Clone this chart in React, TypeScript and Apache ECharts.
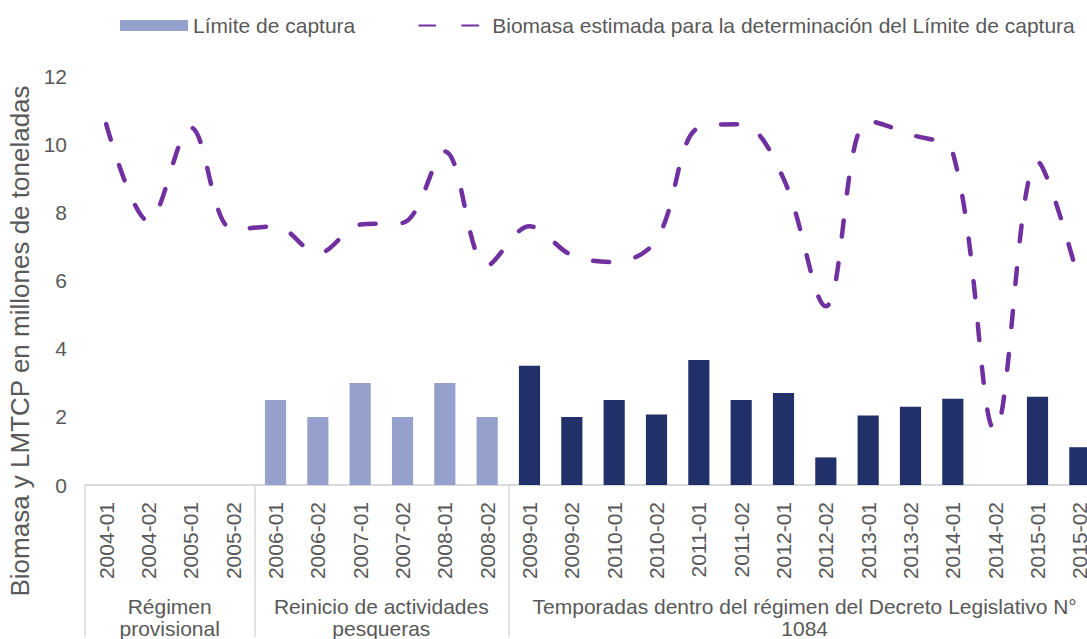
import React, { useEffect, useRef } from "react";
import * as echarts from "echarts";

const categories = [
  "2004-01", "2004-02", "2005-01", "2005-02",
  "2006-01", "2006-02", "2007-01", "2007-02", "2008-01", "2008-02",
  "2009-01", "2009-02", "2010-01", "2010-02", "2011-01", "2011-02",
  "2012-01", "2012-02", "2013-01", "2013-02", "2014-01", "2014-02",
  "2015-01", "2015-02",
];

// Límite de captura (millones de toneladas)
const catchLimit: (number | null)[] = [
  null, null, null, null,
  2.5, 2.0, 3.0, 2.0, 3.0, 2.0,
  3.5, 2.0, 2.5, 2.07, 3.67, 2.5, 2.7, 0.81, 2.04, 2.3, 2.53, null, 2.59, 1.11,
];

// Biomasa estimada (millones de toneladas)
const biomass = [
  10.6, 7.75, 10.5, 7.5,
  7.6, 6.8, 7.65, 7.7, 9.8, 6.45,
  7.6, 6.75, 6.55, 7.2, 10.5, 10.6, 9.0, 5.25, 10.7, 10.3, 9.75, 1.6, 9.5, 5.9,
];

const groupNames = [
  "Régimen\nprovisional",
  "Reinicio de actividades\npesqueras",
  "Temporadas dentro del régimen del Decreto Legislativo N°\n1084",
];
const groupSizes = [4, 6, 14];
const groupColors = ["#95A0CC", "#95A0CC", "#213069"];

const yMin = 0;
const yMax = 12;
const yStep = 2;

const seriesNames = ["Límite de captura", "Biomasa estimada para la determinación del Límite de captura"];
const yAxisTitle = "Biomasa y LMTCP en millones de toneladas";

export default function App() {
  const ref = useRef<HTMLDivElement>(null);

  useEffect(() => {
    if (!ref.current) return;
    const chart = echarts.init(ref.current, undefined, { renderer: "svg" });

    const boundaries: number[] = [0];
    const centers: number[] = [];
    const groupOfIndex: number[] = [];
    groupSizes.forEach((s, g) => {
      const start = boundaries[boundaries.length - 1];
      centers.push(start + s / 2);
      boundaries.push(start + s);
      for (let i = 0; i < s; i++) groupOfIndex.push(g);
    });

    const barData = catchLimit.map((v, i) => ({
      value: v,
      itemStyle: { color: groupColors[groupOfIndex[i]] },
    }));

    const textColor = "#595959";
    const font = "Liberation Sans, Arial, sans-serif";

    chart.setOption({
      animation: false,
      textStyle: { fontFamily: font },
      legend: {
        top: 10,
        left: 115,
        itemGap: 63,
        itemWidth: 68,
        itemHeight: 11,
        textStyle: { fontSize: 21, color: textColor, fontFamily: font },
        data: [
          { name: seriesNames[0], icon: "rect" },
          { name: seriesNames[1], itemStyle: { opacity: 0 } },
        ],
      },
      grid: { left: 85, right: 9, top: 76.5, bottom: 151.5, containLabel: false },
      xAxis: [
        {
          type: "category",
          data: categories,
          boundaryGap: true,
          axisLine: { show: true, lineStyle: { color: "#D9D9D9", width: 2 } },
          axisTick: { show: false },
          splitLine: { show: false },
          axisLabel: {
            interval: 0,
            rotate: 90,
            margin: 17,
            fontSize: 21,
            color: textColor,
            fontFamily: font,
          },
        },
        {
          type: "value",
          min: 0,
          max: boundaries[boundaries.length - 1],
          position: "bottom",
          axisLine: { show: false },
          splitLine: { show: false },
          axisTick: {
            show: true,
            customValues: boundaries,
            length: 152,
            lineStyle: { color: "#D9D9D9", width: 1.5 },
          },
          axisLabel: {
            show: true,
            customValues: centers,
            margin: 110,
            fontSize: 21,
            lineHeight: 22,
            color: textColor,
            fontFamily: font,
            align: "center",
            formatter: (v: number) => {
              const idx = centers.indexOf(v);
              return idx >= 0 ? groupNames[idx] : "";
            },
          },
        },
      ],
      yAxis: {
        type: "value",
        min: yMin,
        max: yMax,
        interval: yStep,
        axisLine: { show: false },
        axisTick: { show: false },
        splitLine: { show: false },
        axisLabel: { fontSize: 21, color: textColor, margin: 18, fontFamily: font },
      },
      graphic: [
        {
          type: "text",
          x: 20,
          y: 341,
          rotation: Math.PI / 2,
          style: {
            text: yAxisTitle,
            fontSize: 26,
            fill: textColor,
            fontFamily: font,
            align: "center",
            verticalAlign: "middle",
          },
        },
      ],
      series: [
        {
          name: seriesNames[0],
          type: "bar",
          xAxisIndex: 0,
          barWidth: "50%",
          itemStyle: { color: groupColors[0] },
          data: barData,
        },
        {
          name: seriesNames[1],
          type: "line",
          xAxisIndex: 0,
          smooth: 0.35,
          showSymbol: false,
          symbol: "none",
          lineStyle: { color: "#7030A0", width: 4.5, type: [16, 27], cap: "round" },
          itemStyle: { color: "#7030A0" },
          data: biomass,
        },
      ],
    });

    return () => chart.dispose();
  }, []);

  return (
    <div style={{ position: "fixed", left: 0, top: 0, width: 1087, height: 639, overflow: "hidden", background: "#fff" }}>
      <div ref={ref} style={{ width: 1110, height: 639 }} />
    </div>
  );
}
